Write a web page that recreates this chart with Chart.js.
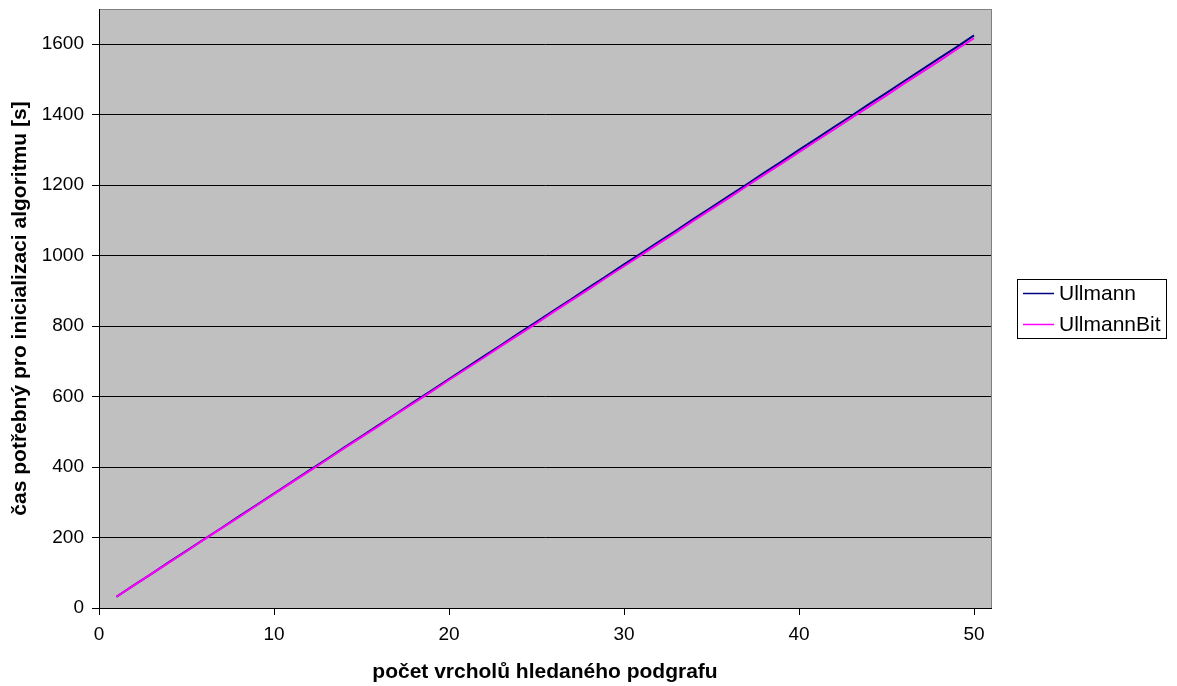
<!DOCTYPE html>
<html>
<head>
<meta charset="utf-8">
<script src="https://cdn.jsdelivr.net/npm/chart.js@4/dist/chart.umd.min.js"></script>
<style>
  html, body { margin: 0; padding: 0; background: #ffffff; }
  canvas { display: block; }
</style>
</head>
<body>
<canvas id="c" width="1177" height="686"></canvas>
<script>
// Number of vertices of the searched subgraph
const vertexCounts = [1,2,3,4,5,6,7,8,9,10,11,12,13,14,15,16,17,18,19,20,21,22,23,24,25,
  26,27,28,29,30,31,32,33,34,35,36,37,38,39,40,41,42,43,44,45,46,47,48,49,50];

// Initialisation time [s]
const ullmannTimes = [32,65,97,130,162,195,227,260,292,325,357,390,422,455,487,520,552,585,617,650,
  682,715,747,780,812,845,877,910,942,975,1007,1040,1072,1105,1137,1170,1202,1235,1267,1300,
  1332,1365,1397,1430,1462,1495,1527,1560,1592,1625];
const ullmannBitTimes = [32,64,97,129,161,194,226,258,291,323,356,388,420,453,485,517,550,582,614,647,
  679,711,744,776,808,841,873,905,938,970,1002,1035,1067,1100,1132,1164,1197,1229,1261,1294,
  1326,1358,1391,1423,1455,1488,1520,1552,1585,1617];

const seriesNames = ['Ullmann', 'UllmannBit'];
const xTitle = 'počet vrcholů hledaného podgrafu';
const yTitle = 'čas potřebný pro inicializaci algoritmu [s]';

const FONT = '"Liberation Sans", Arial, sans-serif';

const toPoints = (ys) => vertexCounts.map((x, i) => ({ x: x, y: ys[i] }));

// Grey plot background and frame
const plotFrame = {
  id: 'plotFrame',
  beforeDraw(chart) {
    const { ctx, chartArea: a } = chart;
    ctx.save();
    ctx.fillStyle = '#c0c0c0';
    ctx.fillRect(a.left, a.top, a.right - a.left, a.bottom - a.top);
    ctx.strokeStyle = '#808080';
    ctx.lineWidth = 1;
    ctx.strokeRect(Math.round(a.left) + 0.5, Math.round(a.top) + 0.5,
      Math.round(a.right - a.left), Math.round(a.bottom - a.top));
    ctx.restore();
  }
};

// Boxed legend on the right side
const boxLegend = {
  id: 'boxLegend',
  afterDraw(chart) {
    const { ctx } = chart;
    const ds = chart.data.datasets;
    const x0 = 1017, y0 = 279, w = 149, h = 59;
    ctx.save();
    ctx.fillStyle = '#ffffff';
    ctx.fillRect(x0, y0, w, h);
    ctx.strokeStyle = '#000000';
    ctx.lineWidth = 1;
    ctx.strokeRect(x0 + 0.5, y0 + 0.5, w, h);
    ctx.font = '21px ' + FONT;
    ctx.textBaseline = 'middle';
    ds.forEach((d, i) => {
      const y = 293 + i * 31;
      ctx.strokeStyle = d.borderColor;
      ctx.lineWidth = 1.5;
      ctx.beginPath();
      ctx.moveTo(1023, y + 0.5);
      ctx.lineTo(1054, y + 0.5);
      ctx.stroke();
      ctx.fillStyle = '#000000';
      ctx.fillText(d.label, 1059, y + 1);
    });
    ctx.restore();
  }
};

new Chart(document.getElementById('c'), {
  type: 'line',
  data: {
    datasets: [
      { label: seriesNames[0], data: toPoints(ullmannTimes), borderColor: '#000080',
        borderWidth: 2, pointRadius: 0, fill: false, tension: 0, order: 1 },
      { label: seriesNames[1], data: toPoints(ullmannBitTimes), borderColor: '#ff00ff',
        borderWidth: 2, pointRadius: 0, fill: false, tension: 0, order: 0 }
    ]
  },
  options: {
    responsive: false,
    animation: false,
    devicePixelRatio: 1,
    layout: { padding: { left: 0, right: 186, top: 9, bottom: 0 } },
    plugins: {
      legend: { display: false },
      tooltip: { enabled: false }
    },
    scales: {
      x: {
        type: 'linear',
        min: 0,
        max: 50.97,
        afterFit(scale) { scale.height = 78; },
        border: { color: '#000000', width: 1 },
        grid: { drawOnChartArea: false, drawTicks: true, tickLength: 7, tickColor: '#000000' },
        ticks: {
          stepSize: 10, includeBounds: false, color: '#000000', padding: 8,
          font: { family: FONT, size: 19 }, maxRotation: 0,
          callback: (v) => String(v)
        },
        title: {
          display: true, text: xTitle, color: '#000000',
          font: { family: FONT, size: 21, weight: 'bold' },
          padding: { top: 8, bottom: 1 }
        }
      },
      y: {
        min: 0,
        max: 1700,
        afterFit(scale) { scale.width = 99; scale.paddingTop = 0; scale.paddingBottom = 0; },
        border: { color: '#000000', width: 1 },
        grid: { color: '#000000', lineWidth: 1, drawTicks: true, tickLength: 7, tickColor: '#000000' },
        ticks: {
          stepSize: 200, includeBounds: false, color: '#000000', padding: 8,
          font: { family: FONT, size: 19 },
          callback: (v) => String(v)
        },
        title: {
          display: true, text: yTitle, color: '#000000',
          font: { family: FONT, size: 21, weight: 'bold' },
          padding: { top: 8, bottom: 0 }
        }
      }
    }
  },
  plugins: [plotFrame, boxLegend]
});
</script>
</body>
</html>
